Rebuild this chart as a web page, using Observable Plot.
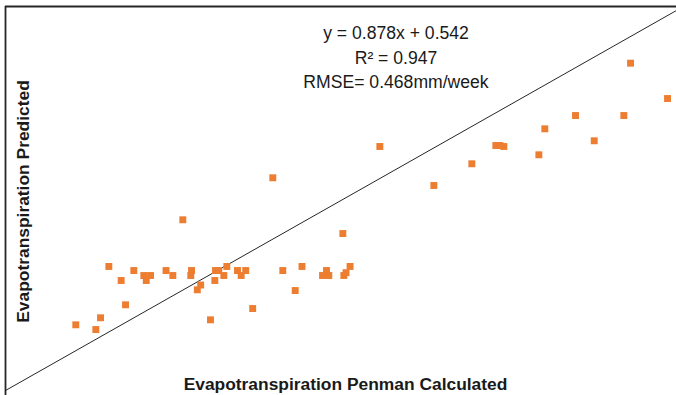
<!DOCTYPE html>
<html>
<head>
<meta charset="utf-8">
<script src="https://cdn.jsdelivr.net/npm/d3@7"></script>
<script src="https://cdn.jsdelivr.net/npm/@observablehq/plot@0.6"></script>
<style>
  html, body { margin: 0; padding: 0; background: #fff; }
  #chart svg { display: block; }
</style>
</head>
<body>
<div id="chart"></div>
<script>
// Evapotranspiration Penman Calculated (mm/week)
const calculated = [0.838, 1.077, 1.133, 1.232, 1.379, 1.431, 1.530, 1.649, 1.729, 1.678,
  1.914, 1.995, 2.114, 2.218, 2.209, 2.327, 2.287, 2.444, 2.496, 2.504,
  2.543, 2.603, 2.639, 2.766, 2.810, 2.864, 2.947, 3.187, 3.306, 3.454,
  3.535, 3.780, 3.855, 3.827, 4.022, 4.034, 4.060, 4.108, 4.463, 5.107,
  5.560, 5.846, 5.894, 5.942, 6.359, 6.430, 6.796, 7.019, 7.372, 7.452, 7.893];
// Evapotranspiration Predicted (mm/week)
const predicted = [1.383, 1.284, 1.531, 2.611, 2.316, 1.804, 2.526, 2.421, 2.421, 2.316,
  2.526, 2.421, 3.594, 2.526, 2.421, 2.221, 2.120, 1.488, 2.316, 2.526,
  2.526, 2.421, 2.611, 2.526, 2.421, 2.526, 1.726, 4.478, 2.526, 2.105,
  2.611, 2.421, 2.421, 2.526, 3.305, 2.421, 2.480, 2.611, 5.137, 4.316,
  4.773, 5.158, 5.158, 5.137, 4.962, 5.509, 5.789, 5.257, 5.789, 6.891, 6.147];
// 1:1 reference line
const refLine = [0, 8];
const xDomain = [0, 8];
const yDomain = [-0.105, 8.084];

const annotations = ["y = 0.878x + 0.542", "R\u00B2 = 0.947", "RMSE= 0.468mm/week"];
const xLabel = "Evapotranspiration Penman Calculated";
const yLabel = "Evapotranspiration Predicted";

const points = calculated.map((c, i) => ({calc: c, pred: predicted[i]}));
const font = "Liberation Sans, Arial, sans-serif";

const chart = Plot.plot({
  width: 676,
  height: 395,
  marginLeft: 5,
  marginRight: 0,
  marginTop: 6,
  marginBottom: 0,
  style: {fontFamily: font, background: "#fff", overflow: "visible"},
  x: {domain: xDomain, axis: null},
  y: {domain: yDomain, axis: null},
  marks: [
    Plot.ruleY([yDomain[1]], {stroke: "#262626", strokeWidth: 1.8}),
    Plot.ruleX([xDomain[0]], {stroke: "#262626", strokeWidth: 1.8}),
    Plot.line(refLine.map(v => ({calc: v, pred: v})), {x: "calc", y: "pred", stroke: "#262626", strokeWidth: 1}),
    Plot.dot(points, {x: "calc", y: "pred", symbol: "square", r: 3.9, fill: "#ED7D31", stroke: "none"}),
    Plot.text([annotations[0]], {frameAnchor: "top", dx: 55, dy: 32, lineAnchor: "bottom", fontSize: 17.6, fill: "#1a1a1a"}),
    Plot.text([annotations[1]], {frameAnchor: "top", dx: 55, dy: 57, lineAnchor: "bottom", fontSize: 17.6, fill: "#1a1a1a"}),
    Plot.text([annotations[2]], {frameAnchor: "top", dx: 55, dy: 81, lineAnchor: "bottom", fontSize: 17.6, fill: "#1a1a1a"}),
    Plot.text([xLabel], {frameAnchor: "bottom", dx: 4.5, dy: -6, lineAnchor: "bottom", fontSize: 17.4, fontWeight: "bold", fill: "#1a1a1a"}),
    Plot.text([yLabel], {frameAnchor: "left", textAnchor: "middle", dx: 23, dy: 0.5, rotate: -90, lineAnchor: "bottom", fontSize: 17.4, fontWeight: "bold", fill: "#1a1a1a"})
  ]
});
document.getElementById("chart").append(chart);
</script>
</body>
</html>
